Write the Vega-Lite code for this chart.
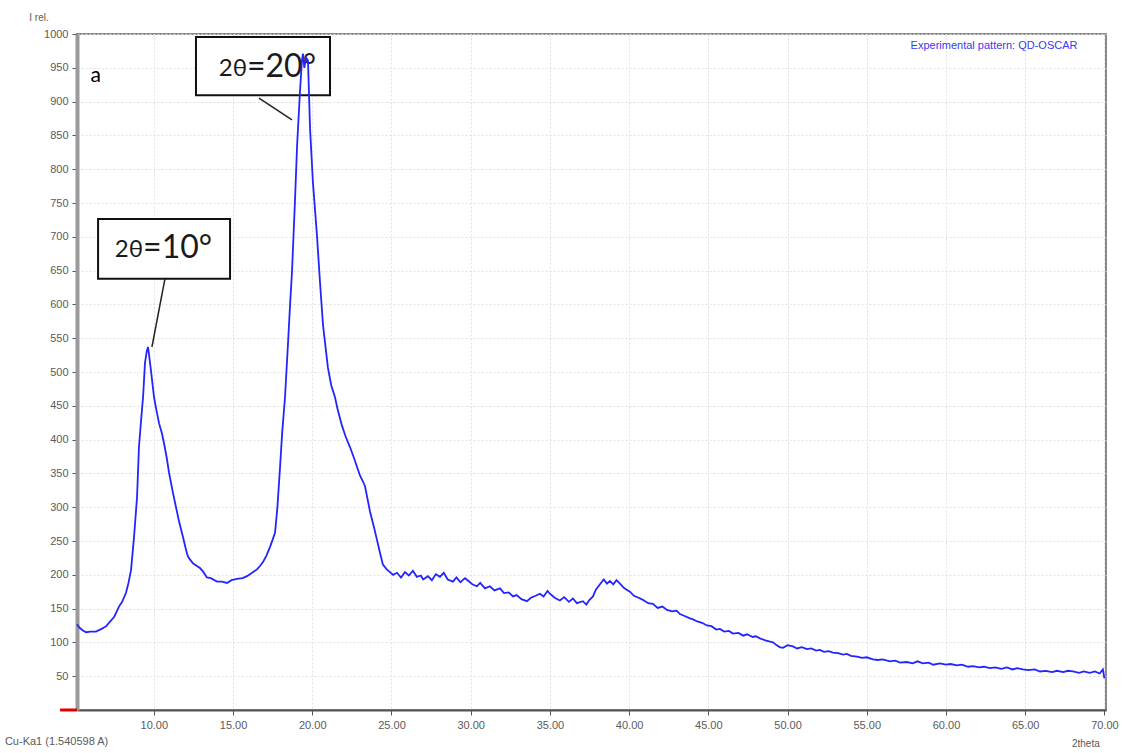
{
  "$schema": "https://vega.github.io/schema/vega-lite/v6.json",
  "width": 1029,
  "height": 676,
  "autosize": {"type": "none"},
  "padding": {"left": 77, "top": 34, "right": 18, "bottom": 43},
  "background": "white",
  "config": {
    "view": {"stroke": "#8a8a8a", "strokeWidth": 2},
    "axis": {"labelFont": "Liberation Sans", "labelColor": "#5a5a5a", "labelFontSize": 11, "gridColor": "#e0e0e0", "gridDash": [2, 2], "gridWidth": 1, "tickColor": "#555", "tickSize": 5, "title": null}
  },
  "datasets": {
    "curve": [
      {"x": 5.15, "y": 127}, {"x": 5.3, "y": 122}, {"x": 5.5, "y": 118}, {"x": 5.72, "y": 115}, {"x": 6.0, "y": 116}, {"x": 6.35, "y": 116}, {"x": 6.7, "y": 120}, {"x": 7.0, "y": 124}, {"x": 7.17, "y": 129}, {"x": 7.5, "y": 138}, {"x": 7.8, "y": 153}, {"x": 8.0, "y": 160}, {"x": 8.24, "y": 173}, {"x": 8.4, "y": 188}, {"x": 8.56, "y": 207}, {"x": 8.75, "y": 256}, {"x": 8.94, "y": 315}, {"x": 9.06, "y": 389}, {"x": 9.2, "y": 430}, {"x": 9.32, "y": 463}, {"x": 9.44, "y": 513}, {"x": 9.55, "y": 530}, {"x": 9.63, "y": 537}, {"x": 9.7, "y": 525}, {"x": 9.82, "y": 502}, {"x": 10.01, "y": 463}, {"x": 10.15, "y": 445}, {"x": 10.33, "y": 424}, {"x": 10.5, "y": 410}, {"x": 10.64, "y": 395}, {"x": 10.8, "y": 375}, {"x": 10.96, "y": 351}, {"x": 11.2, "y": 322}, {"x": 11.4, "y": 300}, {"x": 11.6, "y": 278}, {"x": 11.84, "y": 256}, {"x": 12.0, "y": 240}, {"x": 12.09, "y": 232}, {"x": 12.16, "y": 227}, {"x": 12.3, "y": 222}, {"x": 12.47, "y": 217}, {"x": 12.6, "y": 215}, {"x": 12.91, "y": 210}, {"x": 13.1, "y": 205}, {"x": 13.35, "y": 196}, {"x": 13.6, "y": 195}, {"x": 13.99, "y": 190}, {"x": 14.3, "y": 190}, {"x": 14.62, "y": 188}, {"x": 14.9, "y": 192}, {"x": 15.25, "y": 194}, {"x": 15.6, "y": 195}, {"x": 15.88, "y": 198}, {"x": 16.2, "y": 203}, {"x": 16.51, "y": 208}, {"x": 16.7, "y": 213}, {"x": 16.89, "y": 219}, {"x": 17.1, "y": 228}, {"x": 17.33, "y": 241}, {"x": 17.5, "y": 252}, {"x": 17.65, "y": 262}, {"x": 17.8, "y": 300}, {"x": 17.96, "y": 357}, {"x": 18.1, "y": 410}, {"x": 18.28, "y": 463}, {"x": 18.47, "y": 543}, {"x": 18.6, "y": 600}, {"x": 18.72, "y": 648}, {"x": 18.91, "y": 754}, {"x": 19.04, "y": 834}, {"x": 19.22, "y": 913}, {"x": 19.35, "y": 961}, {"x": 19.41, "y": 971}, {"x": 19.5, "y": 950}, {"x": 19.6, "y": 965}, {"x": 19.73, "y": 961}, {"x": 19.86, "y": 860}, {"x": 20.04, "y": 781}, {"x": 20.3, "y": 701}, {"x": 20.49, "y": 632}, {"x": 20.68, "y": 569}, {"x": 20.99, "y": 506}, {"x": 21.2, "y": 480}, {"x": 21.43, "y": 463}, {"x": 21.6, "y": 445}, {"x": 21.87, "y": 421}, {"x": 22.1, "y": 405}, {"x": 22.38, "y": 389}, {"x": 22.6, "y": 375}, {"x": 23.01, "y": 347}, {"x": 23.2, "y": 338}, {"x": 23.33, "y": 331}, {"x": 23.64, "y": 294}, {"x": 23.9, "y": 270}, {"x": 24.08, "y": 252}, {"x": 24.3, "y": 230}, {"x": 24.46, "y": 215}, {"x": 24.7, "y": 208}, {"x": 24.9, "y": 204},
      {"x": 25.1, "y": 200}, {"x": 25.35, "y": 203}, {"x": 25.6, "y": 196}, {"x": 25.85, "y": 204}, {"x": 26.1, "y": 199}, {"x": 26.35, "y": 206}, {"x": 26.6, "y": 197}, {"x": 26.85, "y": 199}, {"x": 27.0, "y": 193}, {"x": 27.3, "y": 198}, {"x": 27.55, "y": 192}, {"x": 27.8, "y": 201}, {"x": 28.06, "y": 197}, {"x": 28.3, "y": 203}, {"x": 28.55, "y": 193}, {"x": 28.88, "y": 190}, {"x": 29.1, "y": 196}, {"x": 29.35, "y": 189}, {"x": 29.64, "y": 195}, {"x": 29.9, "y": 190}, {"x": 30.1, "y": 186}, {"x": 30.39, "y": 183}, {"x": 30.6, "y": 188}, {"x": 30.9, "y": 180}, {"x": 31.21, "y": 183}, {"x": 31.5, "y": 177}, {"x": 31.85, "y": 180}, {"x": 32.1, "y": 173}, {"x": 32.4, "y": 174}, {"x": 32.67, "y": 168}, {"x": 32.9, "y": 170}, {"x": 33.2, "y": 164}, {"x": 33.55, "y": 161}, {"x": 33.8, "y": 166}, {"x": 34.1, "y": 169}, {"x": 34.37, "y": 172}, {"x": 34.6, "y": 168}, {"x": 34.85, "y": 176}, {"x": 35.0, "y": 172}, {"x": 35.3, "y": 166}, {"x": 35.63, "y": 162}, {"x": 35.9, "y": 167}, {"x": 36.2, "y": 160}, {"x": 36.45, "y": 165}, {"x": 36.7, "y": 158}, {"x": 37.08, "y": 161}, {"x": 37.3, "y": 156}, {"x": 37.5, "y": 163}, {"x": 37.72, "y": 168}, {"x": 37.9, "y": 178}, {"x": 38.16, "y": 186}, {"x": 38.4, "y": 193}, {"x": 38.6, "y": 187}, {"x": 38.79, "y": 191}, {"x": 39.0, "y": 186}, {"x": 39.2, "y": 192}, {"x": 39.42, "y": 187}, {"x": 39.7, "y": 180}, {"x": 40.05, "y": 175}, {"x": 40.3, "y": 169}, {"x": 40.6, "y": 166}, {"x": 40.87, "y": 163}, {"x": 41.2, "y": 158}, {"x": 41.5, "y": 157}, {"x": 41.8, "y": 151}, {"x": 42.1, "y": 153}, {"x": 42.39, "y": 148}, {"x": 42.7, "y": 146}, {"x": 43.0, "y": 147}, {"x": 43.21, "y": 142}, {"x": 43.5, "y": 139}, {"x": 43.8, "y": 136}, {"x": 44.03, "y": 134}, {"x": 44.3, "y": 131}, {"x": 44.6, "y": 129}, {"x": 44.91, "y": 125}, {"x": 45.2, "y": 124}, {"x": 45.5, "y": 119}, {"x": 45.73, "y": 120}, {"x": 46.0, "y": 116}, {"x": 46.3, "y": 117}, {"x": 46.55, "y": 113}, {"x": 46.9, "y": 114}, {"x": 47.2, "y": 110}, {"x": 47.44, "y": 112}, {"x": 47.8, "y": 108}, {"x": 48.0, "y": 109}, {"x": 48.26, "y": 106}, {"x": 48.6, "y": 103}, {"x": 48.9, "y": 101}, {"x": 49.08, "y": 100}, {"x": 49.3, "y": 96}, {"x": 49.5, "y": 93}, {"x": 49.71, "y": 92}, {"x": 50.0, "y": 96}, {"x": 50.34, "y": 94}, {"x": 50.6, "y": 91}, {"x": 50.9, "y": 93}, {"x": 51.22, "y": 90}, {"x": 51.5, "y": 91}, {"x": 51.8, "y": 88}, {"x": 52.04, "y": 89}, {"x": 52.3, "y": 86}, {"x": 52.6, "y": 87}, {"x": 52.86, "y": 85}, {"x": 53.2, "y": 84}, {"x": 53.5, "y": 82}, {"x": 53.74, "y": 83}, {"x": 54.0, "y": 80}, {"x": 54.38, "y": 79}, {"x": 54.7, "y": 77}, {"x": 55.0, "y": 78}, {"x": 55.39, "y": 75}, {"x": 55.7, "y": 74}, {"x": 56.0, "y": 75}, {"x": 56.46, "y": 72}, {"x": 56.8, "y": 73}, {"x": 57.1, "y": 70}, {"x": 57.53, "y": 71}, {"x": 57.9, "y": 69}, {"x": 58.2, "y": 72}, {"x": 58.54, "y": 69}, {"x": 58.9, "y": 70}, {"x": 59.2, "y": 67}, {"x": 59.61, "y": 69}, {"x": 60.0, "y": 67}, {"x": 60.3, "y": 68}, {"x": 60.69, "y": 66}, {"x": 61.0, "y": 67}, {"x": 61.4, "y": 64}, {"x": 61.7, "y": 65}, {"x": 62.1, "y": 63}, {"x": 62.4, "y": 64}, {"x": 62.77, "y": 62}, {"x": 63.1, "y": 63}, {"x": 63.5, "y": 61}, {"x": 63.84, "y": 63}, {"x": 64.2, "y": 60}, {"x": 64.5, "y": 62}, {"x": 64.85, "y": 60}, {"x": 65.2, "y": 59}, {"x": 65.6, "y": 60}, {"x": 65.93, "y": 57}, {"x": 66.3, "y": 58}, {"x": 66.7, "y": 56}, {"x": 67.0, "y": 58}, {"x": 67.4, "y": 56}, {"x": 67.7, "y": 58}, {"x": 68.01, "y": 57}, {"x": 68.4, "y": 55}, {"x": 68.7, "y": 57}, {"x": 69.08, "y": 55}, {"x": 69.4, "y": 57}, {"x": 69.7, "y": 54}, {"x": 69.9, "y": 60}, {"x": 70.0, "y": 47}
    ],
    "boxes": [
      {"x": 12.66, "x2": 21.12, "y": 995.6, "y2": 909.5},
      {"x": 6.48, "x2": 14.81, "y": 726.5, "y2": 637.8}
    ],
    "smallparts": [
      {"x": 15.88, "y": 948, "label": "2θ"},
      {"x": 9.32, "y": 680, "label": "2θ"}
    ],
    "bigparts": [
      {"x": 15.88, "y": 951, "label": "=20°"},
      {"x": 9.32, "y": 683, "label": "=10°"}
    ],
    "leaders": [
      {"x": 16.64, "y": 905, "x2": 18.72, "y2": 872.9},
      {"x": 10.7, "y": 637.8, "x2": 9.88, "y2": 537}
    ],
    "redmark": [
      {"x": 4.08, "x2": 5.15, "y": 0}
    ],
    "notes": [
      {"x": 68.3, "y": 982, "label": "Experimental pattern: QD-OSCAR", "kind": "legend"},
      {"x": 6.0, "y": 938, "label": "a", "kind": "panel"},
      {"x": 2.75, "y": 1023, "label": "I rel.", "kind": "ytitle"},
      {"x": 0.6, "y": -48, "label": "Cu-Ka1 (1.540598 A)", "kind": "source"},
      {"x": 68.83, "y": -51, "label": "2theta", "kind": "xtitle"}
    ]
  },
  "encoding": {
    "x": {"field": "x", "type": "quantitative", "scale": {"domain": [5.15, 70.1], "nice": false, "zero": false},
      "axis": {"values": [10, 15, 20, 25, 30, 35, 40, 45, 50, 55, 60, 65, 70], "format": ".2f", "domainColor": "#555555", "domainWidth": 2, "labelPadding": 4, "grid": true}},
    "y": {"field": "y", "type": "quantitative", "scale": {"domain": [0, 1000], "nice": false},
      "axis": {"values": [50, 100, 150, 200, 250, 300, 350, 400, 450, 500, 550, 600, 650, 700, 750, 800, 850, 900, 950, 1000], "format": "d", "domainColor": "#9a9a9a", "domainWidth": 4, "labelPadding": 4, "grid": true}}
  },
  "layer": [
    {"data": {"name": "boxes"}, "mark": {"type": "rect", "fill": "white", "stroke": "#111111", "strokeWidth": 2},
      "encoding": {"x2": {"field": "x2"}, "y2": {"field": "y2"}}},
    {"data": {"name": "smallparts"}, "mark": {"type": "text", "font": "Lato", "fontSize": 24, "color": "#1a1a1a", "baseline": "middle", "align": "right"},
      "encoding": {"text": {"field": "label"}}},
    {"data": {"name": "bigparts"}, "mark": {"type": "text", "font": "Lato", "fontSize": 32, "color": "#1a1a1a", "baseline": "middle", "align": "left"},
      "encoding": {"text": {"field": "label"}}},
    {"data": {"name": "leaders"}, "mark": {"type": "rule", "color": "#222222", "strokeWidth": 1.5},
      "encoding": {"x2": {"field": "x2"}, "y2": {"field": "y2"}}},
    {"data": {"name": "curve"}, "mark": {"type": "line", "color": "#2424ff", "strokeWidth": 1.8}},
    {"data": {"name": "redmark"}, "mark": {"type": "rule", "color": "#e00000", "strokeWidth": 3, "clip": false},
      "encoding": {"x2": {"field": "x2"}}},
    {"data": {"name": "notes"}, "transform": [{"filter": "datum.kind == 'legend'"}], "mark": {"type": "text", "font": "Liberation Sans", "fontSize": 11, "color": "#3a3aee", "align": "right", "baseline": "middle"},
      "encoding": {"text": {"field": "label"}}},
    {"data": {"name": "notes"}, "transform": [{"filter": "datum.kind == 'panel'"}], "mark": {"type": "text", "font": "Lato", "fontSize": 21, "color": "#000000", "align": "left", "baseline": "middle"},
      "encoding": {"text": {"field": "label"}}},
    {"data": {"name": "notes"}, "transform": [{"filter": "datum.kind == 'ytitle'"}], "mark": {"type": "text", "font": "Liberation Sans", "fontSize": 10, "color": "#5a5a5a", "align": "center", "baseline": "middle", "clip": false},
      "encoding": {"text": {"field": "label"}}},
    {"data": {"name": "notes"}, "transform": [{"filter": "datum.kind == 'source'"}], "mark": {"type": "text", "font": "Liberation Sans", "fontSize": 11, "color": "#5a5a5a", "align": "left", "baseline": "middle", "clip": false},
      "encoding": {"text": {"field": "label"}}},
    {"data": {"name": "notes"}, "transform": [{"filter": "datum.kind == 'xtitle'"}], "mark": {"type": "text", "font": "Liberation Sans", "fontSize": 10, "color": "#5a5a5a", "align": "center", "baseline": "middle", "clip": false},
      "encoding": {"text": {"field": "label"}}}
  ]
}
